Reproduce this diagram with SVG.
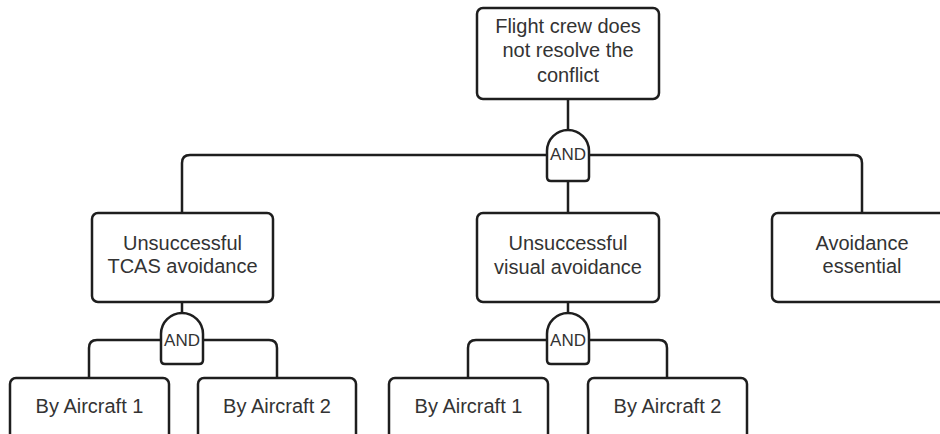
<svg xmlns="http://www.w3.org/2000/svg" width="940" height="434" viewBox="0 0 940 434">
  <defs>
    <style>
      .box { fill: #ffffff; stroke: #1e1e1e; stroke-width: 2.5; }
      .wire { fill: none; stroke: #1e1e1e; stroke-width: 2.5; }
      .gate { fill: #ffffff; stroke: #1e1e1e; stroke-width: 2.5; }
      .label { font-family: "Liberation Sans", Arial, sans-serif; font-size: 20px; fill: #333333; text-anchor: middle; }
      .gtext { font-family: "Liberation Sans", Arial, sans-serif; font-size: 17px; fill: #333333; text-anchor: middle; }
    </style>
    <!-- AND gate outline, centred on x=0, top at y=0 -->
    <path id="andShape" d="M-21,47 V21 A21,21 0 0 1 21,21 V47 Q21,51 17,51 H-17 Q-21,51 -21,47 Z"/>
  </defs>
  <rect width="940" height="434" fill="#ffffff"/>

  <g id="connectors">
    <!-- top event to first gate -->
    <line class="wire" x1="568" y1="99" x2="568" y2="131"/>
    <!-- first gate fan-out -->
    <path class="wire" d="M182,213 V163 Q182,155 190,155 H854 Q862,155 862,163 V213"/>
    <line class="wire" x1="568" y1="181" x2="568" y2="213"/>
    <!-- TCAS branch -->
    <line class="wire" x1="182" y1="302" x2="182" y2="314"/>
    <path class="wire" d="M89,378 V348 Q89,340 97,340 H269 Q277,340 277,348 V378"/>
    <!-- visual branch -->
    <line class="wire" x1="568" y1="302" x2="568" y2="314"/>
    <path class="wire" d="M468,378 V348 Q468,340 476,340 H659 Q667,340 667,348 V378"/>
  </g>

  <g id="top-event">
    <rect class="box" x="477" y="8" width="182" height="91" rx="6"/>
    <text class="label" x="568" y="33">Flight crew does</text>
    <text class="label" x="568" y="57">not resolve the</text>
    <text class="label" x="568" y="82">conflict</text>
  </g>

  <g id="gate-top">
    <use href="#andShape" class="gate" transform="translate(568,130)"/>
    <text class="gtext" x="568" y="160">AND</text>
  </g>

  <g id="tcas">
    <rect class="box" x="92" y="213" width="181" height="89" rx="6"/>
    <text class="label" x="182.5" y="250">Unsuccessful</text>
    <text class="label" x="182.5" y="273">TCAS avoidance</text>
  </g>

  <g id="visual">
    <rect class="box" x="477" y="213" width="182" height="89" rx="6"/>
    <text class="label" x="568" y="250">Unsuccessful</text>
    <text class="label" x="568" y="274">visual avoidance</text>
  </g>

  <g id="essential">
    <rect class="box" x="772" y="213" width="181" height="89" rx="6"/>
    <text class="label" x="862" y="250">Avoidance</text>
    <text class="label" x="862" y="273">essential</text>
  </g>

  <g id="gate-tcas">
    <use href="#andShape" class="gate" transform="translate(182,313)"/>
    <text class="gtext" x="182" y="346">AND</text>
  </g>

  <g id="gate-visual">
    <use href="#andShape" class="gate" transform="translate(568,313)"/>
    <text class="gtext" x="568" y="346">AND</text>
  </g>

  <g id="tcas-ac1">
    <rect class="box" x="10" y="378" width="159" height="90" rx="6"/>
    <text class="label" x="89.5" y="413">By Aircraft 1</text>
  </g>

  <g id="tcas-ac2">
    <rect class="box" x="198" y="378" width="158" height="90" rx="6"/>
    <text class="label" x="277" y="413">By Aircraft 2</text>
  </g>

  <g id="visual-ac1">
    <rect class="box" x="389" y="378" width="159" height="90" rx="6"/>
    <text class="label" x="468.5" y="413">By Aircraft 1</text>
  </g>

  <g id="visual-ac2">
    <rect class="box" x="588" y="378" width="159" height="90" rx="6"/>
    <text class="label" x="667.5" y="413">By Aircraft 2</text>
  </g>
</svg>
